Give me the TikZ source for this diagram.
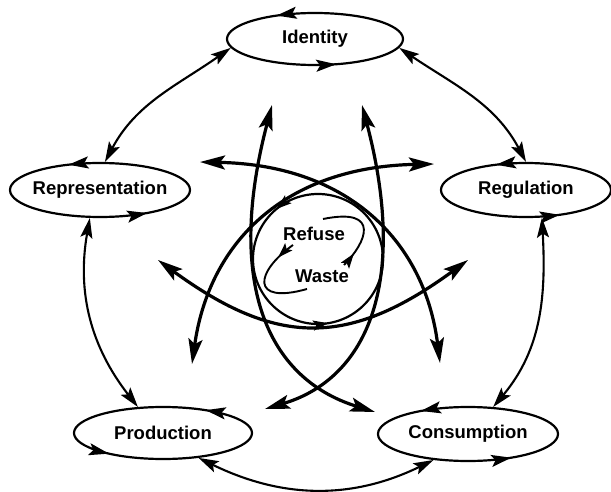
\documentclass[tikz,border=0pt]{standalone}
\usepackage{fontspec}
\setmainfont{Liberation Sans}
\usetikzlibrary{arrows.meta,shapes.geometric,decorations.markings}

\tikzset{
  ohead/.tip={Stealth[length=20pt,width=12pt,inset=4pt]},
  ihead/.tip={Stealth[length=25pt,width=14pt,inset=5pt]},
  shead/.tip={Stealth[length=15pt,width=10pt,inset=3pt]},
}

\begin{document}
\begin{tikzpicture}[x=1pt, y=1pt,
  font=\bfseries\fontsize{18.5}{20}\selectfont,
  state/.style 2 args = {draw, ellipse, line width=2.2pt, inner xsep=-20pt, inner ysep=0pt,
    postaction={decorate, decoration={markings,
      mark=at position #1 with {\arrow{ohead}},
      mark=at position #2 with {\arrow{ohead}}}}},
  link/.style = {ohead-ohead, line width=2.1pt},
  flow/.style = {ihead-ihead, line width=3.2pt},
  turn/.style = {line width=1.9pt, postaction={decorate, decoration={markings,
      mark=at position #1 with {\arrow{shead}}}}}
]
\useasboundingbox (0,0) rectangle (611,491);

% the five moments
\node[state={0.35}{0.805}, minimum width=176pt, minimum height=52pt] (ident) at (315,452) {Identity};
\node[state={0.33}{0.87}, minimum width=180pt, minimum height=54pt] (repr) at (100,301) {Representation};
\node[state={0.33}{0.84}, minimum width=170pt, minimum height=54pt] (reg) at (526,301) {Regulation};
\node[state={0.14}{0.61}, minimum width=178pt, minimum height=52pt] (prod) at (163,58) {Production};
\node[state={0.37}{0.86}, minimum width=180pt, minimum height=54pt] (cons) at (468,57) {Consumption};

% outer ring
\draw[link] (ident.186) to[out=215, in=62] (repr.80);
\draw[link] (ident.354) to[out=-34, in=118] (reg.90);
\draw[link] (repr.250) to[out=260, in=128] (prod.134);
\draw[link] (reg.300) to[out=273, in=50] (cons.47);
\draw[link] (prod.325) to[out=-26, in=206] (cons.217);

% centre
\node[draw, circle, line width=2.2pt, minimum size=130pt,
  postaction={decorate, decoration={markings,
    mark=at position 0.36 with {\arrow{shead}},
    mark=at position 0.775 with {\arrow{shead}}}}] (hub) at (318,232) {};
\node (refuse) at (314,257) {Refuse};
\node (waste) at (322,215) {Waste};

\coordinate (f1a) at (272,386); \coordinate (f1b) at (375,79);
\coordinate (f2a) at (362,386); \coordinate (f2b) at (265,82);
\coordinate (f3a) at (200,329); \coordinate (f3b) at (440,128);
\coordinate (f4a) at (434,327); \coordinate (f4b) at (192,127);
\coordinate (f5a) at (158,231); \coordinate (f5b) at (468,231);

\draw[flow] (f1a) .. controls (226,211) and (265,113) .. (f1b);
\draw[flow] (f2a) .. controls (408,211) and (369,113) .. (f2b);
\draw[flow] (f3a) .. controls (350,326) and (425,248) .. (f3b);
\draw[flow] (f4a) .. controls (284,324) and (209,248) .. (f4b);
\draw[flow] (f5a) .. controls (277,144) and (349,144) .. (f5b);

% refuse <-> waste
\coordinate (r1a) at (293,246); \coordinate (r1b) at (307,202);
\coordinate (r2a) at (344,226); \coordinate (r2b) at (323,272);
\draw[turn=0.2] (r1a) .. controls (255,219) and (250,186) .. (r1b);
\draw[turn=0.17] (r2a) .. controls (366,248) and (382,284) .. (r2b);
\end{tikzpicture}
\end{document}
